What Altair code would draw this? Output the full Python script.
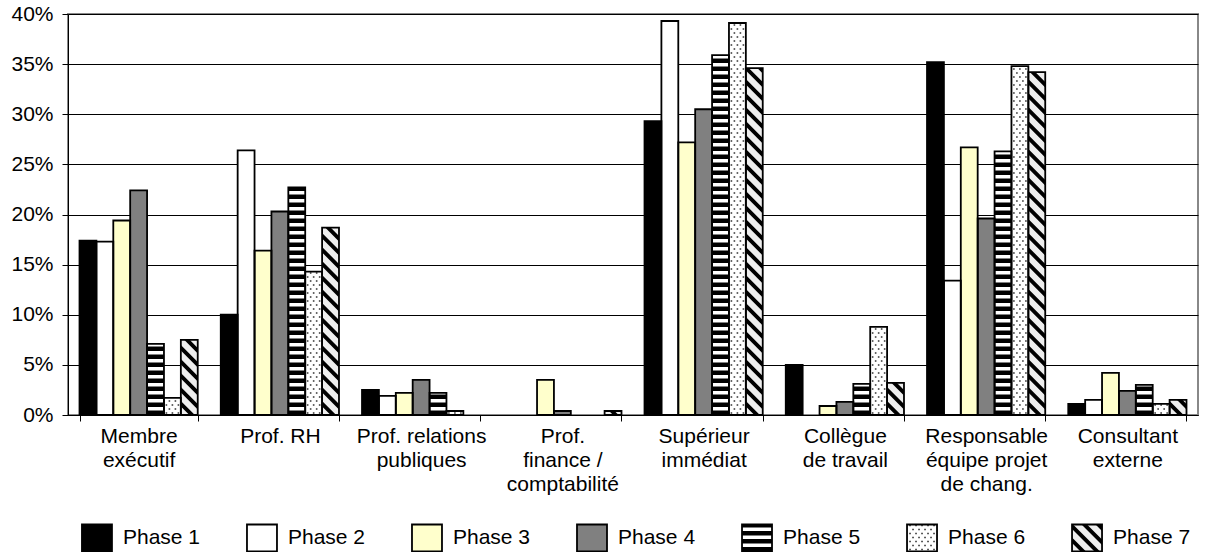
import altair as alt
import pandas as pd

# ---- data -------------------------------------------------------------
CATEGORIES = [
    "Membre\nexécutif",
    "Prof. RH",
    "Prof. relations\npubliques",
    "Prof.\nfinance /\ncomptabilité",
    "Supérieur\nimmédiat",
    "Collègue\nde travail",
    "Responsable\néquipe projet\nde chang.",
    "Consultant\nexterne",
]
PHASES = ["Phase 1", "Phase 2", "Phase 3", "Phase 4", "Phase 5", "Phase 6", "Phase 7"]

PHASE_1 = [17.4, 10.0, 2.5, 0.0, 29.3, 5.0, 35.2, 1.1]
PHASE_2 = [17.3, 26.4, 1.9, 0.0, 39.3, 0.0, 13.4, 1.5]
PHASE_3 = [19.4, 16.4, 2.2, 3.5, 27.2, 0.9, 26.7, 4.2]
PHASE_4 = [22.4, 20.3, 3.5, 0.4, 30.5, 1.3, 19.6, 2.4]
PHASE_5 = [7.1, 22.7, 2.2, 0.0, 35.9, 3.1, 26.3, 3.0]
PHASE_6 = [1.7, 14.3, 0.4, 0.0, 39.1, 8.8, 34.8, 1.1]
PHASE_7 = [7.5, 18.7, 0.0, 0.4, 34.6, 3.2, 34.2, 1.5]
SERIES = [PHASE_1, PHASE_2, PHASE_3, PHASE_4, PHASE_5, PHASE_6, PHASE_7]

FILLS = ["#000000", "#ffffff", "#ffffcc", "#808080", "#ffffff", "#ffffff", "#eeeeee"]

# ---- geometry of the plot --------------------------------------------
W, H = 1130, 401
Y_MAX = 40
PAD_IN = 0.163
STEP = W / len(CATEGORIES)
BAR_W = STEP * (1 - PAD_IN) / len(PHASES)
PX_PER_PCT = H / Y_MAX
FONT = "Liberation Sans"
FS = 21

# pattern settings (pixels)
HSTRIPE_PERIOD, HSTRIPE_INK = 8.0, 4.5
DIAG_PERIOD, DIAG_INK = 14.0, 5.5
DOT_PX, DOT_PY, DOT_SIZE = 6.0, 4.0, 1.6


def fmt(v):
    return f"{v:.3f}".rstrip("0").rstrip(".")


def to_path(polys, unit):
    out = []
    for poly in polys:
        if len(poly) < 3:
            continue
        pts = [f"{fmt(x / unit)},{fmt(y / unit)}" for x, y in poly]
        out.append("M" + "L".join(pts) + "Z")
    return " ".join(out)


def clip_y(poly, ylo, yhi):
    def cross(p, q, yl):
        t = (yl - p[1]) / (q[1] - p[1])
        return (p[0] + t * (q[0] - p[0]), yl)

    def cut(pts, inside, yl):
        res = []
        for i in range(len(pts)):
            p, q = pts[i - 1], pts[i]
            if inside(q):
                if not inside(p):
                    res.append(cross(p, q, yl))
                res.append(q)
            elif inside(p):
                res.append(cross(p, q, yl))
        return res

    pts = cut(poly, lambda p: p[1] >= ylo, ylo)
    if pts:
        pts = cut(pts, lambda p: p[1] <= yhi, yhi)
    return pts


def diag_polys(x0, x1, y0, y1):
    """Backslash stripes filling the box [x0,x1]x[y0,y1] (y grows downward)."""
    w = x1 - x0
    polys = []
    c = y1
    while c + w + DIAG_INK > y0:
        quad = [(x0, c), (x1, c + w), (x1, c + w + DIAG_INK), (x0, c + DIAG_INK)]
        clipped = clip_y(quad, y0, y1)
        if clipped:
            polys.append(clipped)
        c -= DIAG_PERIOD
    return polys


def dot_polys(x0, x1, y0, y1):
    polys = []
    d = DOT_SIZE / 2
    y = y1 - DOT_PY / 2
    row = 0
    while y - d >= y0:
        shift = 0 if row % 2 == 0 else DOT_PX / 2
        k = -6
        while k <= 6:
            x = k * DOT_PX + shift
            if x - d >= x0 + 1 and x + d <= x1 - 1:
                polys.append([(x - d, y - d), (x + d, y - d), (x + d, y + d), (x - d, y + d)])
            k += 1
        y -= DOT_PY
        row += 1
    return polys


def hstripe_polys(x0, x1, y0, y1):
    polys = []
    y = y1
    while y > y0:
        top = max(y - HSTRIPE_INK, y0)
        polys.append([(x0, top), (x1, top), (x1, y), (x0, y)])
        y -= HSTRIPE_PERIOD
    return polys


# ---- tables -----------------------------------------------------------
bars = pd.DataFrame(
    [
        {"category": c, "phase": p, "value": v}
        for p, vals in zip(PHASES, SERIES)
        for c, v in zip(CATEGORIES, vals)
        if v > 0
    ]
)

# horizontal stripes of phase 5, in data units
stripe_rows = []
for c, v in zip(CATEGORIES, PHASE_5):
    period = HSTRIPE_PERIOD / PX_PER_PCT
    ink = HSTRIPE_INK / PX_PER_PCT
    k = 0
    while k * period < v:
        stripe_rows.append({"category": c, "phase": "Phase 5", "lo": k * period,
                            "hi": min(k * period + ink, v)})
        k += 1
stripes = pd.DataFrame(stripe_rows)

half = BAR_W / 2
dots = pd.DataFrame(
    [
        {"category": c, "phase": "Phase 6", "base": 0,
         "path": to_path(dot_polys(-half, half, -v * PX_PER_PCT, 0), half)}
        for c, v in zip(CATEGORIES, PHASE_6) if v > 0
    ]
)
diags = pd.DataFrame(
    [
        {"category": c, "phase": "Phase 7", "base": 0,
         "path": to_path(diag_polys(-half, half, -v * PX_PER_PCT, 0), half)}
        for c, v in zip(CATEGORIES, PHASE_7) if v > 0
    ]
)

# legend keys
KEY_W, KEY_H = 30.0, 27.0
KU = KEY_W / 2
kx0, kx1, ky0, ky1 = -KEY_W / 2, KEY_W / 2, -KEY_H / 2, KEY_H / 2
KEY_BOX = to_path([[(kx0, ky0), (kx1, ky0), (kx1, ky1), (kx0, ky1)]], KU)
legend = pd.DataFrame({"phase": PHASES})
key_ink = pd.DataFrame(
    [
        {"phase": "Phase 5", "path": to_path(hstripe_polys(kx0, kx1, ky0, ky1), KU), "ink": "#000000"},
        {"phase": "Phase 6", "path": to_path(dot_polys(kx0, kx1, ky0, ky1), KU), "ink": "#333333"},
        {"phase": "Phase 7", "path": to_path(diag_polys(kx0, kx1, ky0, ky1), KU), "ink": "#000000"},
    ]
)

# ---- encodings --------------------------------------------------------
X = alt.X(
    "category:N",
    sort=CATEGORIES,
    scale=alt.Scale(domain=CATEGORIES, paddingInner=PAD_IN, paddingOuter=PAD_IN / 2),
    axis=alt.Axis(
        title=None, labelAngle=0, labelExpr="split(datum.label, '\\n')",
        tickBand="extent", tickSize=6, labelPadding=4, labelFontSize=FS,
        labelLineHeight=24, labelColor="black", domainColor="black",
        tickColor="black", labelOverlap=False, labelLimit=300, grid=False,
    ),
)
XOFF = alt.XOffset("phase:N", scale=alt.Scale(domain=PHASES, paddingInner=0, paddingOuter=0))
Y = alt.Y(
    "value:Q",
    scale=alt.Scale(domain=[0, Y_MAX], nice=False),
    axis=alt.Axis(
        title=None, values=list(range(0, Y_MAX + 1, 5)), labelExpr="datum.value + '%'",
        tickSize=6, labelPadding=9, labelFontSize=FS, labelColor="black",
        domainColor="black", tickColor="black", gridColor="black", gridWidth=1,
    ),
)
FILL = alt.Fill("phase:N", scale=alt.Scale(domain=PHASES, range=FILLS), legend=None)

fill_layer = alt.Chart(bars).mark_bar(strokeWidth=0).encode(x=X, xOffset=XOFF, y=Y, fill=FILL)

stripe_layer = alt.Chart(stripes).mark_bar(color="black", strokeWidth=0).encode(
    x=X, xOffset=XOFF, y=alt.Y("lo:Q"), y2="hi:Q"
)

dot_layer = alt.Chart(dots).mark_point(
    filled=True, opacity=1, fill="#333333", strokeWidth=0, size=BAR_W ** 2
).encode(x=X, xOffset=XOFF, y=alt.Y("base:Q"), shape=alt.Shape("path:N", scale=None))

diag_layer = alt.Chart(diags).mark_point(
    filled=True, opacity=1, fill="black", strokeWidth=0, size=BAR_W ** 2
).encode(x=X, xOffset=XOFF, y=alt.Y("base:Q"), shape=alt.Shape("path:N", scale=None))

outline_layer = alt.Chart(bars).mark_bar(
    fill="transparent", stroke="black", strokeWidth=1.8
).encode(x=X, xOffset=XOFF, y=Y)

main = alt.layer(fill_layer, stripe_layer, dot_layer, diag_layer, outline_layer)

# ---- legend row -------------------------------------------------------
LEG_X = alt.X(
    "phase:N",
    scale=alt.Scale(domain=PHASES, type="point", padding=0.424),
    axis=None,
)
LEG_Y = alt.value(524)
KEY_DX = -41

key_fill = alt.Chart(legend).mark_point(
    filled=True, opacity=1, strokeWidth=0, size=KEY_W ** 2, xOffset=KEY_DX
).encode(x=LEG_X, y=LEG_Y, fill=FILL, shape=alt.value(KEY_BOX))

key_pattern = alt.Chart(key_ink).mark_point(
    filled=True, opacity=1, strokeWidth=0, size=KEY_W ** 2, xOffset=KEY_DX
).encode(
    x=LEG_X, y=LEG_Y,
    fill=alt.Fill("ink:N", scale=None),
    shape=alt.Shape("path:N", scale=None),
)

key_outline = alt.Chart(legend).mark_point(
    filled=False, opacity=1, stroke="black", strokeWidth=1.8, size=KEY_W ** 2, xOffset=KEY_DX
).encode(x=LEG_X, y=LEG_Y, shape=alt.value(KEY_BOX))

key_label = alt.Chart(legend).mark_text(
    align="left", baseline="middle", dx=-15, fontSize=FS, font=FONT, color="black"
).encode(x=LEG_X, y=LEG_Y, text="phase:N")

legend_row = alt.layer(key_fill, key_pattern, key_outline, key_label)

chart = (
    alt.layer(main, legend_row)
    .resolve_scale(x="independent")
    .properties(
        width=W,
        height=H,
        autosize=alt.AutoSizeParams(type="none"),
        padding={"left": 68, "top": 14, "right": 8, "bottom": 137},
        background="white",
    )
    .configure(font=FONT)
    .configure_axis(labelFont=FONT)
    .configure_view(stroke="#888888", strokeWidth=2)
)

chart.save("out.html", embed_options={"renderer": "svg", "actions": False})
